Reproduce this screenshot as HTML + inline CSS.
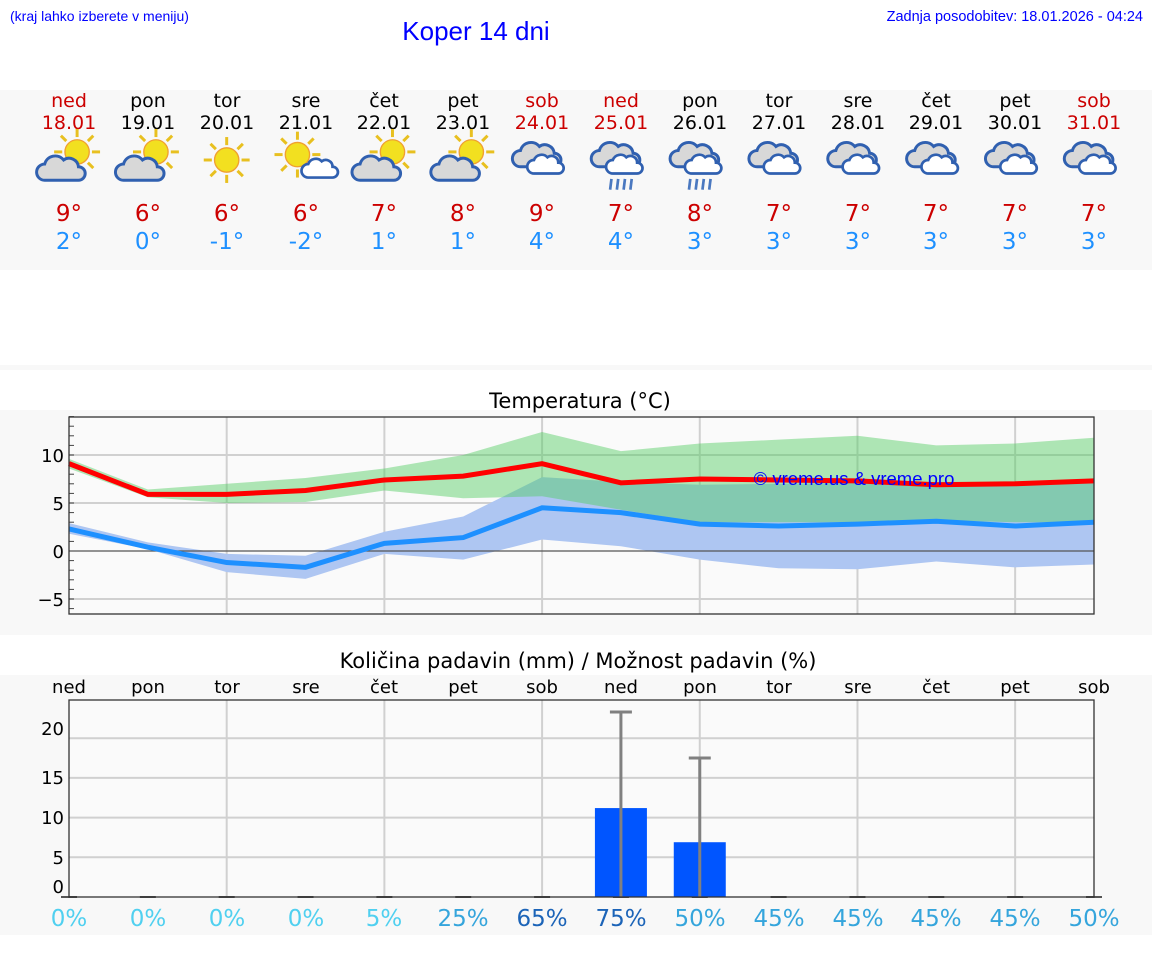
<!DOCTYPE html>
<html><head><meta charset="utf-8">
<style>
body{margin:0;background:#fff;width:1152px;height:975px;overflow:hidden;font-family:"DejaVu Sans","Liberation Sans",sans-serif}
svg{position:absolute;left:0;top:0}
</style></head><body>
<svg id="s" width="1152" height="975" xmlns="http://www.w3.org/2000/svg" font-family="DejaVu Sans, Liberation Sans, sans-serif">
<defs>
<g id="sun"><g stroke="#e8c020" stroke-width="2.2">
<line x1="0" y1="-17" x2="0" y2="-11"/><line x1="0" y1="17" x2="0" y2="11"/><line x1="-17" y1="0" x2="-11" y2="0"/><line x1="17" y1="0" x2="11" y2="0"/>
<line x1="-12" y1="-12" x2="-8" y2="-8"/><line x1="12" y1="12" x2="8" y2="8"/><line x1="-12" y1="12" x2="-8" y2="8"/><line x1="12" y1="-12" x2="8" y2="-8"/></g>
<circle r="9" fill="#f2e020" stroke="#f0a030" stroke-width="1"/></g>
<g id="cl"><path d="M-14,8 a6,6 0 0 1 0,-12 a8,8 0 0 1 14,-3 a7,7 0 0 1 11,5 a5,5 0 0 1 0,10 z" fill="#d8d8d8" stroke="#3060b0" stroke-width="2.2"/></g>
<g id="clw"><path d="M-10,6 a5,5 0 0 1 0,-10 a6,6 0 0 1 10,-2 a5,5 0 0 1 8,4 a4,4 0 0 1 0,8 z" fill="#fff" stroke="#3060b0" stroke-width="2"/></g>
<g id="ov"><use href="#cl" transform="translate(-2,-4)"/><use href="#clw" transform="translate(4,3)"/></g>
</defs>
<text x="10" y="21" font-size="14" fill="#0000ff" font-family="Liberation Sans, sans-serif">(kraj lahko izberete v meniju)</text>
<text x="476" y="40" font-size="26" fill="#0000ff" text-anchor="middle" font-family="Liberation Sans, sans-serif">Koper 14 dni</text>
<text x="1143" y="21" font-size="14.5" fill="#0000ff" text-anchor="end" font-family="Liberation Sans, sans-serif">Zadnja posodobitev: 18.01.2026 - 04:24</text>
<rect x="0" y="90" width="1152" height="180" fill="#f8f8f8"/>
<rect x="0" y="365" width="1152" height="5" fill="#f8f8f8"/>
<rect x="0" y="410" width="1152" height="225" fill="#f8f8f8"/>
<rect x="0" y="675" width="1152" height="260" fill="#f8f8f8"/>
<text x="580" y="408" font-size="21" text-anchor="middle">Temperatura (°C)</text>
<text x="578" y="668" font-size="21" text-anchor="middle">Količina padavin (mm) / Možnost padavin (%)</text>
<rect x="69" y="417" width="1025" height="197" fill="#fafafa"/>
<g id="temp"></g>
<rect x="69" y="700" width="1025" height="197" fill="#fafafa"/>
<g id="rain"></g>
<g font-size="18" text-anchor="end">
<text x="64" y="462">10</text><text x="64" y="510">5</text><text x="64" y="558">0</text><text x="64" y="606">−5</text>
<text x="64" y="735">20</text><text x="64" y="784">15</text><text x="64" y="824">10</text><text x="64" y="864">5</text><text x="64" y="893">0</text>
</g>
<g font-size="18" text-anchor="middle">
<text x="69" y="693">ned</text><text x="148" y="693">pon</text><text x="227" y="693">tor</text><text x="306" y="693">sre</text><text x="384" y="693">čet</text><text x="463" y="693">pet</text><text x="542" y="693">sob</text><text x="621" y="693">ned</text><text x="700" y="693">pon</text><text x="779" y="693">tor</text><text x="858" y="693">sre</text><text x="936" y="693">čet</text><text x="1015" y="693">pet</text><text x="1094" y="693">sob</text>
</g>
<g font-size="23" text-anchor="middle">
<text x="69" y="926" fill="#50d0f0">0%</text><text x="148" y="926" fill="#50d0f0">0%</text><text x="227" y="926" fill="#50d0f0">0%</text><text x="306" y="926" fill="#50d0f0">0%</text><text x="384" y="926" fill="#50d0f0">5%</text><text x="463" y="926" fill="#35a5dc">25%</text><text x="542" y="926" fill="#1c64b8">65%</text><text x="621" y="926" fill="#1c64b8">75%</text><text x="700" y="926" fill="#35a5dc">50%</text><text x="779" y="926" fill="#35a5dc">45%</text><text x="858" y="926" fill="#35a5dc">45%</text><text x="936" y="926" fill="#35a5dc">45%</text><text x="1015" y="926" fill="#35a5dc">45%</text><text x="1094" y="926" fill="#35a5dc">50%</text>
</g>
<text x="854" y="485" font-size="18.5" fill="#0000ff" text-anchor="middle" font-family="Liberation Sans, sans-serif">© vreme.us &amp; vreme.pro</text>
<g font-size="19" text-anchor="middle">
<text x="69" y="107" fill="#cc0000">ned</text><text x="69" y="129" fill="#cc0000">18.01</text>
<text x="148" y="107">pon</text><text x="148" y="129">19.01</text>
<text x="227" y="107">tor</text><text x="227" y="129">20.01</text>
<text x="306" y="107">sre</text><text x="306" y="129">21.01</text>
<text x="384" y="107">čet</text><text x="384" y="129">22.01</text>
<text x="463" y="107">pet</text><text x="463" y="129">23.01</text>
<text x="542" y="107" fill="#cc0000">sob</text><text x="542" y="129" fill="#cc0000">24.01</text>
<text x="621" y="107" fill="#cc0000">ned</text><text x="621" y="129" fill="#cc0000">25.01</text>
<text x="700" y="107">pon</text><text x="700" y="129">26.01</text>
<text x="779" y="107">tor</text><text x="779" y="129">27.01</text>
<text x="858" y="107">sre</text><text x="858" y="129">28.01</text>
<text x="936" y="107">čet</text><text x="936" y="129">29.01</text>
<text x="1015" y="107">pet</text><text x="1015" y="129">30.01</text>
<text x="1094" y="107" fill="#cc0000">sob</text><text x="1094" y="129" fill="#cc0000">31.01</text>
</g>
<g font-size="23" text-anchor="middle" fill="#cc0000">
<text x="69" y="221">9°</text><text x="148" y="221">6°</text><text x="227" y="221">6°</text><text x="306" y="221">6°</text><text x="384" y="221">7°</text><text x="463" y="221">8°</text><text x="542" y="221">9°</text><text x="621" y="221">7°</text><text x="700" y="221">8°</text><text x="779" y="221">7°</text><text x="858" y="221">7°</text><text x="936" y="221">7°</text><text x="1015" y="221">7°</text><text x="1094" y="221">7°</text>
</g>
<g font-size="23" text-anchor="middle" fill="#1e90ff">
<text x="69" y="249">2°</text><text x="148" y="249">0°</text><text x="227" y="249">-1°</text><text x="306" y="249">-2°</text><text x="384" y="249">1°</text><text x="463" y="249">1°</text><text x="542" y="249">4°</text><text x="621" y="249">4°</text><text x="700" y="249">3°</text><text x="779" y="249">3°</text><text x="858" y="249">3°</text><text x="936" y="249">3°</text><text x="1015" y="249">3°</text><text x="1094" y="249">3°</text>
</g>
<g id="icons"></g>
</svg>
<script>
const NS="http://www.w3.org/2000/svg";
function el(p,t,a){const e=document.createElementNS(NS,t);for(const k in a)e.setAttribute(k,a[k]);p.appendChild(e);return e;}
const X=i=>69+i*1025/13, Y=v=>551-9.6*v;
const T=document.getElementById('temp');
[10,5,-5].forEach(v=>el(T,'line',{x1:69,x2:1094,y1:Y(v),y2:Y(v),stroke:'#d0d0d0','stroke-width':2}));
[2,4,6,8,10,12].forEach(i=>el(T,'line',{x1:X(i),x2:X(i),y1:417,y2:614,stroke:'#d0d0d0','stroke-width':2}));
for(let v=-6;v<=14;v++)el(T,'line',{x1:69,x2:74,y1:Y(v),y2:Y(v),stroke:'#444','stroke-width':1});
function band(up,lo,fill,op){let p=up.map((v,i)=>X(i)+','+Y(v));for(let i=lo.length-1;i>=0;i--)p.push(X(i)+','+Y(lo[i]));el(T,'polygon',{points:p.join(' '),fill,'fill-opacity':op});}
const bu=[2.9,0.9,-0.3,-0.5,2.0,3.6,7.7,7.2,6.9,7.0,7.1,7.2,7.2,7.2],bl=[1.8,0.2,-2.2,-2.9,-0.3,-0.9,1.2,0.5,-0.9,-1.8,-1.9,-1.1,-1.7,-1.4];
const gu=[9.6,6.4,7.0,7.6,8.6,10.0,12.4,10.4,11.2,11.6,12.0,11.0,11.2,11.8],gl=[8.6,5.6,5.0,5.1,6.3,5.5,5.7,4.3,3.0,3.0,3.0,3.2,3.0,3.0];
band(bu,bl,'#aec6f2',1);band(gu,gl,'#50cc60',0.45);
el(T,'line',{x1:69,x2:1094,y1:Y(0),y2:Y(0),stroke:'#555','stroke-width':1.2});
const red=[9.1,5.9,5.9,6.3,7.4,7.8,9.1,7.1,7.5,7.4,7.3,6.9,7.0,7.3],blue=[2.3,0.4,-1.2,-1.7,0.8,1.4,4.5,4.0,2.8,2.6,2.8,3.1,2.6,3.0];
el(T,'polyline',{points:red.map((v,i)=>X(i)+','+Y(v)).join(' '),fill:'none',stroke:'#ff0000','stroke-width':5});
el(T,'polyline',{points:blue.map((v,i)=>X(i)+','+Y(v)).join(' '),fill:'none',stroke:'#1e90ff','stroke-width':5});
el(T,'rect',{x:69,y:417,width:1025,height:197,fill:'none',stroke:'#333','stroke-width':1.3});
const R=document.getElementById('rain'),RY=v=>897-7.94*v;
[5,10,15,20].forEach(v=>el(R,'line',{x1:69,x2:1094,y1:RY(v),y2:RY(v),stroke:'#d0d0d0','stroke-width':2}));
[2,4,6,8,10,12].forEach(i=>el(R,'line',{x1:X(i),x2:X(i),y1:700,y2:897,stroke:'#d0d0d0','stroke-width':2}));
for(let i=0;i<14;i++)el(R,'line',{x1:X(i)-8,x2:X(i)+8,y1:897,y2:897,stroke:'#555','stroke-width':2});
[[7,11.2,23.3],[8,6.9,17.5]].forEach(([i,v,e])=>{el(R,'rect',{x:X(i)-26,y:RY(v),width:52,height:897-RY(v),fill:'#0055ff'});
el(R,'line',{x1:X(i),x2:X(i),y1:897,y2:RY(e),stroke:'#808080','stroke-width':3});
el(R,'line',{x1:X(i)-11,x2:X(i)+11,y1:RY(e),y2:RY(e),stroke:'#808080','stroke-width':3});});
el(R,'rect',{x:69,y:700,width:1025,height:197,fill:'none',stroke:'#333','stroke-width':1.3});
const I=document.getElementById('icons');
const types=['pc','pc','s','ps','pc','pc','o','r','r','o','o','o','o','o'];
types.forEach((t,i)=>{const g=el(I,'g',{transform:`translate(${X(i)},160) scale(1.35)`});
 if(t=='pc'){el(g,'use',{href:'#sun',transform:'translate(6,-6)'});el(g,'use',{href:'#cl',transform:'translate(-4,7)'});}
 else if(t=='s'){el(g,'use',{href:'#sun'});}
 else if(t=='ps'){el(g,'use',{href:'#sun',transform:'translate(-6,-4)'});el(g,'use',{href:'#clw',transform:'translate(12,7)'});}
 else{el(g,'use',{href:'#ov',transform:'translate(0,1)'});if(t=='r'){for(let k=0;k<4;k++)el(g,'line',{x1:-7+k*5,y1:14,x2:-8+k*5,y2:22,stroke:'#4a78c0','stroke-width':2});}}
});
</script>
</body></html>
